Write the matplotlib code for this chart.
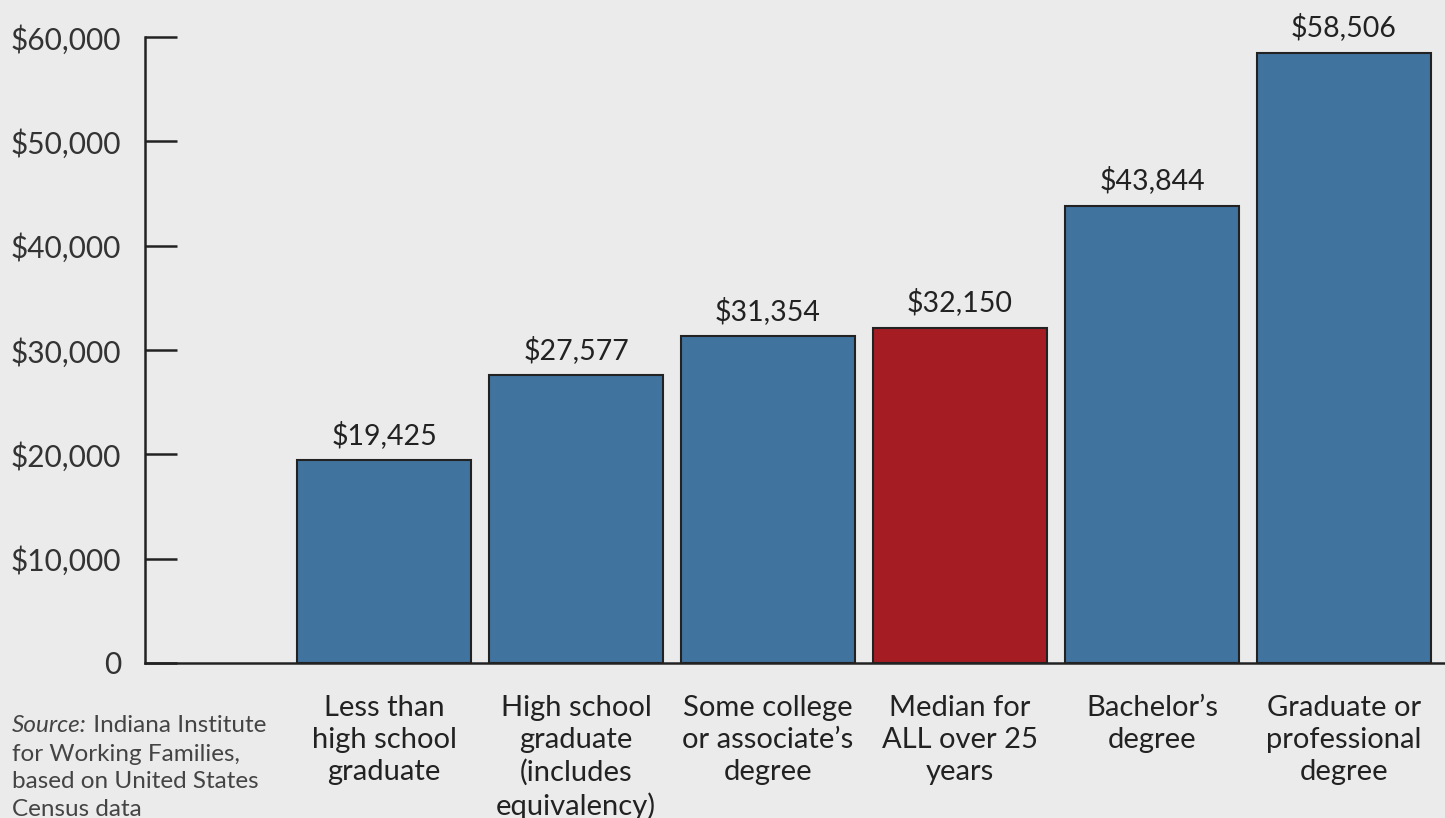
import matplotlib.pyplot as plt

categories = [
    "Less than\nhigh school\ngraduate",
    "High school\ngraduate\n(includes\nequivalency)",
    "Some college\nor associate\u2019s\ndegree",
    "Median for\nALL over 25\nyears",
    "Bachelor\u2019s\ndegree",
    "Graduate or\nprofessional\ndegree",
]
earnings = [19425, 27577, 31354, 32150, 43844, 58506]
colors = ["#41739f", "#41739f", "#41739f", "#a51c22", "#41739f", "#41739f"]
y_ticks = [0, 10000, 20000, 30000, 40000, 50000, 60000]
y_labels = ["0", "$10,000", "$20,000", "$30,000", "$40,000", "$50,000", "$60,000"]

bg = "#ebebeb"
ink = "#222222"
plt.rcParams["font.family"] = ["Lato", "DejaVu Sans"]

fig = plt.figure(figsize=(14.45, 8.18), dpi=100, facecolor=bg)
ax = fig.add_axes([145 / 1445, 155 / 818, 1 - 145 / 1445, 626 / 818], facecolor=bg)

x = list(range(1, len(earnings) + 1))
ax.bar(x, earnings, width=174 / 192, color=colors, edgecolor=ink, linewidth=1.5)

for xi, v in zip(x, earnings):
    ax.annotate(f"${v:,}", xy=(xi, v), xytext=(0, 8), textcoords="offset points",
                ha="center", va="bottom", fontsize=20.5, color=ink)

ax.set_xlim(-0.245, 6.526)
ax.set_ylim(0, 60000)
ax.set_yticks(y_ticks)
ax.set_yticklabels(y_labels, fontsize=21.5, color="#333333")
ax.set_xticks(x)
ax.set_xticklabels(categories, fontsize=21, color=ink, linespacing=1.28, va="top")
ax.tick_params(axis="y", direction="in", length=23, width=1.8, color=ink, pad=17)
ax.tick_params(axis="x", length=0, pad=23)

for s in ["top", "right"]:
    ax.spines[s].set_visible(False)
for s in ["left", "bottom"]:
    ax.spines[s].set_linewidth(1.8)
    ax.spines[s].set_color(ink)

src_color = "#444444"
t1 = fig.text(12 / 1445, 1 - 715 / 818, "Source:", fontsize=17.5, style="italic",
              color=src_color, va="top")
ax.annotate(" Indiana Institute", xy=(1, 0), xycoords=t1, fontsize=17.5,
            color=src_color, va="bottom", annotation_clip=False)
fig.text(12 / 1445, 1 - 744 / 818,
         "for Working Families,\nbased on United States\nCensus data",
         fontsize=17.5, color=src_color, va="top", linespacing=1.37)

fig.savefig("out.png", dpi=100, facecolor=bg)
